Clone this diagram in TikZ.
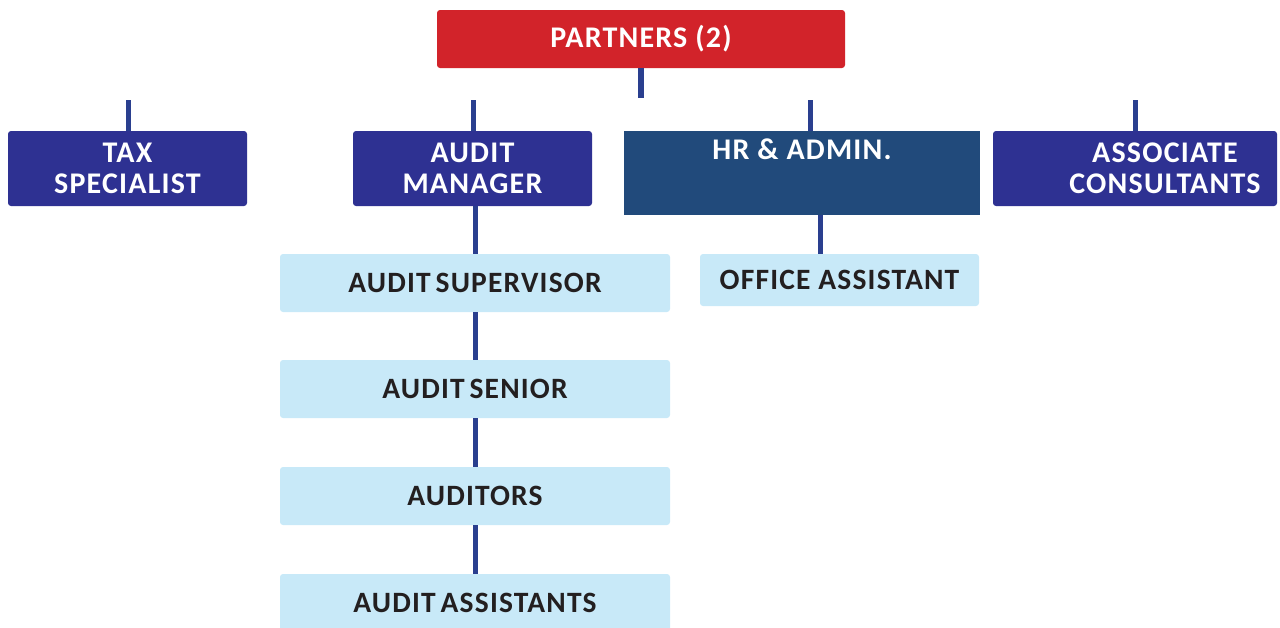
\documentclass[tikz,border=0pt]{standalone}
\usepackage{fontspec}
\setmainfont{Carlito}[LetterSpace=4]
\definecolor{partred}{HTML}{D2232A}
\definecolor{navy}{HTML}{2E3192}
\definecolor{hrblue}{HTML}{214A7B}
\definecolor{lightb}{HTML}{C8E9F8}
\definecolor{linec}{HTML}{2A3F8F}
\definecolor{ink}{HTML}{231F20}
\tikzset{
  boxbase/.style={inner sep=0pt, align=center, font=\bfseries\fontsize{30}{31}\selectfont},
  redbox/.style={boxbase, fill=partred, text=white, rounded corners=3pt},
  navybox/.style={boxbase, fill=navy, text=white, rounded corners=3pt, minimum width=239pt, minimum height=75pt},
  hrbox/.style={boxbase, fill=hrblue, text=white, minimum width=356pt, minimum height=84pt},
  lightbox/.style={boxbase, fill=lightb, text=ink, rounded corners=3pt, minimum width=390pt, minimum height=58pt, font=\bfseries\fontsize{29.5}{30}\selectfont},
  wlabel/.style={boxbase, text=white},
  conn/.style={draw=linec, line width=5pt},
}
\begin{document}
\begin{tikzpicture}[x=1pt,y=-1pt]
\useasboundingbox (0,0) rectangle (1280,627);
% top
\node[redbox, minimum width=408pt, minimum height=58pt] (partners) at (641,39) {PARTNERS (2)};
\coordinate (pstem) at (641,98);
\draw[conn, line width=6pt] (partners.south) -- (pstem);
% level 2
\node[navybox] (tax) at (127.5,168.5) {TAX\\SPECIALIST};
\node[navybox] (audit) at (472.5,168.5) {AUDIT\\MANAGER};
\node[hrbox] (hr) at (802,173) {};
\node[wlabel, anchor=base] (hrlabel) at (802,159) {HR \& ADMIN.};
\node[navybox, minimum width=284pt] (assoc) at (1135,168.5) {};
\node[wlabel] (assoclabel) at (1165,168.5) {ASSOCIATE\\CONSULTANTS};
% stubs
\coordinate (taxs) at (128,100);
\coordinate (auds) at (473,100);
\coordinate (hrs) at (810,100);
\coordinate (asss) at (1135,100);
\draw[conn] (taxs) -- (taxs |- tax.north);
\draw[conn] (auds) -- (auds |- audit.north);
\draw[conn] (hrs) -- (hrs |- hr.north);
\draw[conn] (asss) -- (asss |- assoc.north);
% audit chain
\node[lightbox] (sup) at (475,283) {AUDIT\hspace{-3pt} SUPERVISOR};
\node[lightbox] (senior) at (475,389) {AUDIT\hspace{-3pt} SENIOR};
\node[lightbox] (auditors) at (475,496) {AUDITORS};
\node[lightbox] (assist) at (475,603) {AUDIT\hspace{-3pt} ASSISTANTS};
\draw[conn] (sup.north |- audit.south) -- (sup.north);
\draw[conn] (sup.south) -- (senior.north);
\draw[conn] (senior.south) -- (auditors.north);
\draw[conn] (auditors.south) -- (assist.north);
% HR chain
\node[lightbox, minimum width=279pt, minimum height=52pt] (office) at (839.5,280) {OFFICE ASSISTANT};
\coordinate (hrx) at (820,0);
\draw[conn] (hrx |- hr.south) -- (hrx |- office.north);
\end{tikzpicture}
\end{document}
